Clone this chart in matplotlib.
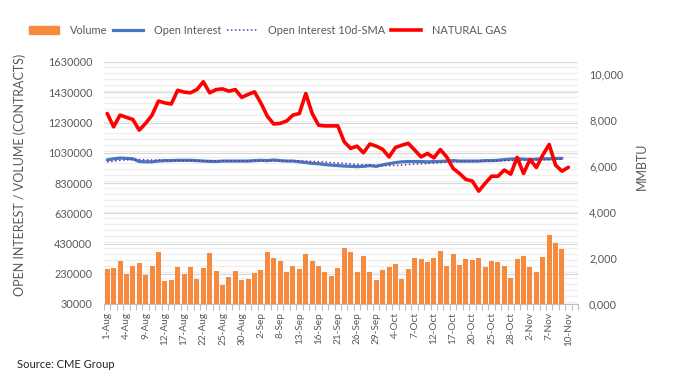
import numpy as np
import matplotlib.pyplot as plt
from matplotlib.ticker import MultipleLocator, FixedLocator
from matplotlib.lines import Line2D
from matplotlib.patches import Patch

# trading days, 1-Aug to 10-Nov
dates = ["1-Aug", "2-Aug", "3-Aug", "4-Aug", "5-Aug", "8-Aug", "9-Aug", "10-Aug", "11-Aug", "12-Aug",
         "15-Aug", "16-Aug", "17-Aug", "18-Aug", "19-Aug", "22-Aug", "23-Aug", "24-Aug", "25-Aug", "26-Aug",
         "29-Aug", "30-Aug", "31-Aug", "1-Sep", "2-Sep", "6-Sep", "7-Sep", "8-Sep", "9-Sep", "12-Sep",
         "13-Sep", "14-Sep", "15-Sep", "16-Sep", "19-Sep", "20-Sep", "21-Sep", "22-Sep", "23-Sep", "26-Sep",
         "27-Sep", "28-Sep", "29-Sep", "30-Sep", "3-Oct", "4-Oct", "5-Oct", "6-Oct", "7-Oct", "10-Oct",
         "11-Oct", "12-Oct", "13-Oct", "14-Oct", "17-Oct", "18-Oct", "19-Oct", "20-Oct", "21-Oct", "24-Oct",
         "25-Oct", "26-Oct", "27-Oct", "28-Oct", "31-Oct", "1-Nov", "2-Nov", "3-Nov", "4-Nov", "7-Nov",
         "8-Nov", "9-Nov", "10-Nov"]

# contracts (volume / OI have no entry yet for the last day)
volume = [261000, 268000, 314000, 228000, 281000, 301000, 222000, 281000, 374000, 182000,
          189000, 275000, 228000, 275000, 195000, 268000, 367000, 248000, 156000, 209000,
          248000, 189000, 195000, 235000, 255000, 374000, 334000, 314000, 242000, 281000,
          261000, 361000, 314000, 281000, 242000, 215000, 268000, 400000, 374000, 242000,
          347000, 242000, 189000, 255000, 275000, 294000, 195000, 261000, 334000, 328000,
          308000, 334000, 380000, 281000, 361000, 288000, 328000, 321000, 334000, 275000,
          314000, 308000, 281000, 202000, 328000, 347000, 275000, 242000, 341000, 486000,
          433000, 394000]

open_interest = [983000, 990000, 995000, 993000, 990000, 972000, 970000, 970000, 975000, 978000,
                 978000, 980000, 980000, 980000, 978000, 975000, 973000, 972000, 975000, 975000,
                 975000, 975000, 975000, 978000, 980000, 978000, 982000, 978000, 975000, 975000,
                 970000, 965000, 960000, 957000, 952000, 948000, 945000, 942000, 940000, 938000,
                 940000, 945000, 940000, 950000, 958000, 965000, 970000, 972000, 972000, 972000,
                 970000, 972000, 973000, 975000, 978000, 975000, 975000, 975000, 975000, 978000,
                 978000, 980000, 985000, 988000, 990000, 988000, 985000, 988000, 990000, 990000,
                 992000, 993000]

oi_sma = [970000, 975000, 980000, 983000, 985000, 985000, 983000, 982000, 981000, 980000,
          979000, 978000, 977000, 977000, 977000, 977000, 977000, 976000, 976000, 976000,
          976000, 976000, 976000, 976000, 976000, 977000, 977000, 977000, 977000, 977000,
          976000, 975000, 973000, 971000, 968000, 965000, 962000, 959000, 956000, 953000,
          950000, 948000, 946000, 945000, 945000, 946000, 948000, 952000, 955000, 957000,
          959000, 962000, 965000, 968000, 970000, 971000, 972000, 973000, 974000, 975000,
          976000, 977000, 978000, 979000, 980000, 981000, 982000, 983000, 984000, 985000,
          986000, 987000]

# MMBTU
nat_gas = [8290, 7710, 8220, 8120, 8030, 7565, 7860, 8220, 8830, 8750,
           8700, 9300, 9220, 9190, 9330, 9670, 9190, 9330, 9360, 9260,
           9330, 8990, 9120, 9230, 8740, 8170, 7830, 7860, 7960, 8220,
           8290, 9160, 8290, 7780, 7750, 7750, 7750, 7060, 6770, 6870,
           6580, 6960, 6870, 6730, 6400, 6810, 6910, 6990, 6700, 6400,
           6550, 6360, 6720, 6400, 5900, 5680, 5420, 5350, 4910, 5250,
           5560, 5560, 5830, 5650, 6380, 5680, 6290, 5940, 6480, 6940,
           6040, 5780, 5950]

left_ticks = [30000, 230000, 430000, 630000, 830000, 1030000, 1230000, 1430000, 1630000]
right_ticks = [0, 2000, 4000, 6000, 8000, 10000]
right_labels = ["0,000", "2,000", "4,000", "6,000", "8,000", "10,000"]

plt.rcParams['font.family'] = ['Lato', 'DejaVu Sans']
grey = '#595959'

fig = plt.figure(figsize=(6.73, 3.87), dpi=100)
ax = fig.add_axes([104 / 673, 1 - 304 / 387, 474 / 673, 242 / 387])

x = np.arange(len(dates))
ax.bar(x[:len(volume)], volume, width=0.78, color='#F68B3F', zorder=2)
ax.plot(x[:len(open_interest)], open_interest, color='#4A78BE', lw=2.3, zorder=3,
        solid_capstyle='round')
ax.plot(x[:len(oi_sma)], oi_sma, color='#7030A0', lw=1.1, ls=(0, (1, 1.6)), zorder=4)

ax.set_xlim(-0.5, len(dates) + 0.5)
ax.set_ylim(left_ticks[0], left_ticks[-1])
ax.set_yticks(left_ticks)
ax.set_yticklabels([str(t) for t in left_ticks])
ax.yaxis.set_minor_locator(MultipleLocator(40000))
ax.grid(axis='y', which='major', color='#D9D9D9', lw=0.9)
ax.grid(axis='y', which='minor', color='#EFEFEF', lw=0.9)
ax.set_axisbelow(True)
for s in ['top', 'left', 'right']:
    ax.spines[s].set_visible(False)
ax.spines['bottom'].set_color('#BFBFBF')

ax.set_xticks(x[::3])
ax.set_xticklabels(dates[::3], rotation=90)
ax.xaxis.set_minor_locator(FixedLocator(np.arange(-0.5, len(dates) + 1)))
ax.tick_params(axis='x', which='major', length=0, pad=6, labelsize=7.2, labelcolor=grey)
ax.tick_params(axis='x', which='minor', length=4, color='#BFBFBF', width=0.8)
ax.tick_params(axis='y', which='both', length=0, pad=8.5, labelsize=7.8, labelcolor=grey)

ax2 = ax.twinx()
ax2.plot(x, nat_gas, color='#FF0000', lw=2.6, solid_joinstyle='round', solid_capstyle='round')
ax2.set_ylim(0, 10530)
ax2.set_yticks(right_ticks)
ax2.set_yticklabels(right_labels)
ax2.tick_params(axis='y', length=0, pad=8, labelsize=7.8, labelcolor=grey)
for s in ax2.spines.values():
    s.set_visible(False)

fig.text(20 / 673, 1 - 175 / 387, "OPEN INTEREST / VOLUME (CONTRACTS)", rotation=90,
         ha='center', va='center', fontsize=9, color=grey)
fig.text(642 / 673, 1 - 166 / 387, "MMBTU", rotation=90, ha='center', va='center',
         fontsize=9, color=grey)
fig.text(17 / 673, 1 - 365 / 387, "Source: CME Group", ha='left', va='center',
         fontsize=8, color='#222222')

handles = [Patch(color='#F68B3F'),
           Line2D([], [], color='#4A78BE', lw=2.3),
           Line2D([], [], color='#7030A0', lw=1.1, ls=(0, (1, 1.6))),
           Line2D([], [], color='#FF0000', lw=2.6)]
labels = ["Volume", "Open Interest", "Open Interest 10d-SMA", "NATURAL GAS"]
fig.legend(handles, labels, loc='center', bbox_to_anchor=(268 / 673, 1 - 30 / 387), ncol=4,
           frameon=False, fontsize=7.9, labelcolor=grey, handlelength=2.7, handleheight=0.7,
           handletextpad=1.0, columnspacing=0.55, borderpad=0)

fig.savefig("out.png", dpi=100)
